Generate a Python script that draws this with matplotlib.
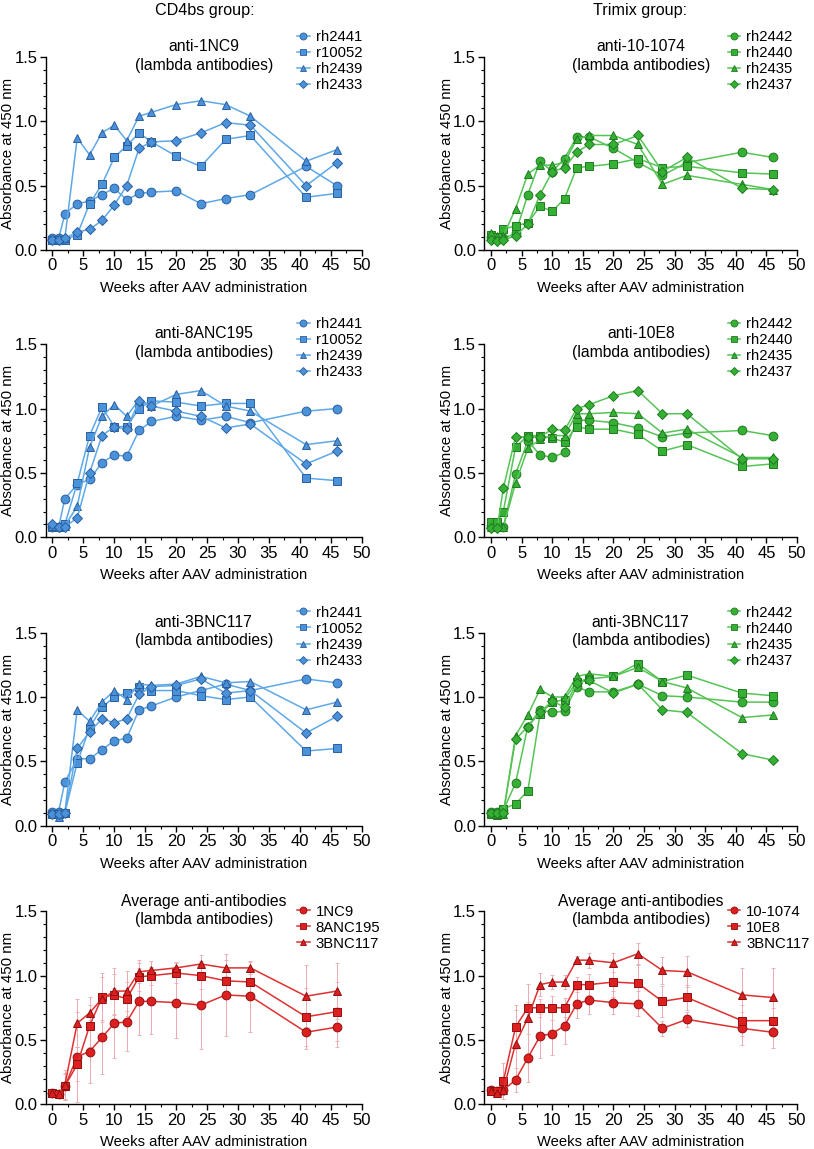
import numpy as np
import matplotlib
matplotlib.use('Agg')
import matplotlib.pyplot as plt
from matplotlib.ticker import MultipleLocator, FormatStrFormatter
from matplotlib.lines import Line2D

plt.rcParams['font.family'] = ['Liberation Sans', 'DejaVu Sans']

weeks = [0, 1, 2, 4, 6, 8, 10, 12, 14, 16, 20, 24, 28, 32, 41, 46]

cd4_animals = ['rh2441', 'r10052', 'rh2439', 'rh2433']
tri_animals = ['rh2442', 'rh2440', 'rh2435', 'rh2437']

# CD4bs group, anti-1NC9
cd4_1nc9 = [
    [0.09, 0.09, 0.28, 0.36, 0.38, 0.43, 0.48, 0.39, 0.44, 0.45, 0.46, 0.36, 0.40, 0.43, 0.65, 0.50],
    [0.08, 0.08, 0.08, 0.12, 0.36, 0.51, 0.72, 0.81, 0.91, 0.84, 0.73, 0.65, 0.86, 0.89, 0.41, 0.44],
    [0.08, 0.08, 0.09, 0.87, 0.74, 0.91, 0.97, 0.85, 1.04, 1.07, 1.13, 1.16, 1.13, 1.04, 0.69, 0.78],
    [0.08, 0.08, 0.09, 0.14, 0.16, 0.23, 0.35, 0.50, 0.79, 0.84, 0.85, 0.91, 0.99, 0.97, 0.50, 0.68],
]
# CD4bs group, anti-8ANC195
cd4_8anc195 = [
    [0.08, 0.08, 0.30, 0.41, 0.45, 0.58, 0.64, 0.63, 0.83, 0.90, 0.94, 0.91, 0.94, 0.89, 0.98, 1.00],
    [0.08, 0.08, 0.10, 0.42, 0.79, 1.01, 0.86, 0.86, 1.00, 1.06, 1.05, 1.02, 1.04, 1.04, 0.46, 0.44],
    [0.09, 0.08, 0.09, 0.24, 0.70, 0.94, 1.03, 0.94, 1.07, 1.02, 1.11, 1.14, 1.02, 0.98, 0.72, 0.75],
    [0.10, 0.08, 0.08, 0.15, 0.50, 0.79, 0.86, 0.84, 1.06, 1.02, 0.98, 0.94, 0.85, 0.88, 0.57, 0.67],
]
# CD4bs group, anti-3BNC117
cd4_3bnc117 = [
    [0.11, 0.11, 0.34, 0.52, 0.52, 0.59, 0.66, 0.68, 0.90, 0.93, 1.00, 1.05, 1.10, 1.05, 1.14, 1.11],
    [0.09, 0.09, 0.10, 0.49, 0.76, 0.92, 1.00, 1.03, 1.08, 1.05, 1.05, 1.01, 0.98, 1.00, 0.58, 0.60],
    [0.09, 0.07, 0.10, 0.90, 0.81, 0.96, 1.05, 0.98, 1.10, 1.09, 1.10, 1.16, 1.11, 1.12, 0.90, 0.96],
    [0.09, 0.09, 0.10, 0.60, 0.73, 0.83, 0.80, 0.83, 1.02, 1.08, 1.09, 1.14, 1.03, 1.05, 0.72, 0.85],
]
# Trimix group, anti-10-1074
tri_101074 = [
    [0.10, 0.09, 0.09, 0.13, 0.43, 0.69, 0.61, 0.71, 0.88, 0.88, 0.79, 0.68, 0.58, 0.68, 0.76, 0.72],
    [0.12, 0.10, 0.16, 0.19, 0.21, 0.34, 0.30, 0.40, 0.64, 0.65, 0.67, 0.71, 0.64, 0.65, 0.60, 0.59],
    [0.13, 0.11, 0.11, 0.32, 0.59, 0.66, 0.66, 0.68, 0.86, 0.89, 0.89, 0.82, 0.51, 0.58, 0.51, 0.47],
    [0.08, 0.07, 0.08, 0.11, 0.20, 0.43, 0.61, 0.64, 0.76, 0.82, 0.82, 0.89, 0.61, 0.72, 0.48, 0.47],
]
# Trimix group, anti-10E8
tri_10e8 = [
    [0.09, 0.09, 0.08, 0.49, 0.75, 0.64, 0.62, 0.66, 0.91, 0.91, 0.89, 0.85, 0.78, 0.81, 0.83, 0.79],
    [0.12, 0.12, 0.20, 0.70, 0.79, 0.79, 0.77, 0.74, 0.86, 0.84, 0.84, 0.80, 0.67, 0.72, 0.55, 0.57],
    [0.08, 0.08, 0.08, 0.42, 0.69, 0.76, 0.79, 0.79, 0.96, 0.96, 0.97, 0.96, 0.81, 0.84, 0.62, 0.62],
    [0.07, 0.07, 0.38, 0.78, 0.78, 0.78, 0.84, 0.83, 1.00, 1.03, 1.10, 1.14, 0.96, 0.96, 0.61, 0.61],
]
# Trimix group, anti-3BNC117
tri_3bnc117 = [
    [0.11, 0.11, 0.12, 0.33, 0.77, 0.90, 0.88, 0.89, 1.08, 1.04, 1.04, 1.10, 1.01, 1.00, 0.96, 0.96],
    [0.09, 0.08, 0.13, 0.17, 0.27, 0.87, 0.96, 0.98, 1.12, 1.14, 1.16, 1.26, 1.12, 1.17, 1.03, 1.01],
    [0.09, 0.09, 0.09, 0.70, 0.86, 1.06, 1.00, 1.00, 1.16, 1.18, 1.16, 1.23, 1.12, 1.07, 0.84, 0.86],
    [0.10, 0.10, 0.10, 0.67, 0.77, 0.88, 0.97, 0.92, 1.11, 1.13, 1.03, 1.10, 0.90, 0.88, 0.56, 0.51],
]

# averages as plotted
cd4_avg_labels = ['1NC9', '8ANC195', '3BNC117']
cd4_avg = [
    [0.09, 0.08, 0.14, 0.37, 0.41, 0.52, 0.63, 0.64, 0.80, 0.80, 0.79, 0.77, 0.85, 0.84, 0.56, 0.60],
    [0.09, 0.08, 0.14, 0.31, 0.61, 0.83, 0.85, 0.82, 0.99, 1.00, 1.02, 1.00, 0.96, 0.95, 0.68, 0.72],
    [0.09, 0.08, 0.15, 0.63, 0.71, 0.82, 0.88, 0.88, 1.03, 1.04, 1.06, 1.09, 1.06, 1.06, 0.84, 0.88],
]
tri_avg_labels = ['10-1074', '10E8', '3BNC117']
tri_avg = [
    [0.11, 0.10, 0.11, 0.19, 0.36, 0.53, 0.55, 0.61, 0.78, 0.81, 0.79, 0.78, 0.59, 0.66, 0.59, 0.56],
    [0.10, 0.10, 0.18, 0.60, 0.75, 0.75, 0.75, 0.75, 0.93, 0.93, 0.95, 0.94, 0.80, 0.83, 0.65, 0.65],
    [0.10, 0.09, 0.11, 0.47, 0.67, 0.93, 0.95, 0.95, 1.12, 1.12, 1.10, 1.17, 1.04, 1.03, 0.85, 0.83],
]

markers = ['o', 's', '^', 'D']
msizes = [6.3, 6.0, 6.0, 4.6]

blue = dict(line='#5EA8E8', face='#4A92DA', edge='#2B5E9E')
green = dict(line='#55C455', face='#35B035', edge='#1F7A1F')
red = dict(line='#E03030', face='#DD1F1F', edge='#8E0F0F')

fig = plt.figure(figsize=(8.14, 11.49), dpi=100)

left_x, right_x = 0.0561, 0.595
col_w = [0.3883, 0.3842]
leg_x = [0.795, 0.778]
row_bottoms = [0.7824, 0.5324, 0.2814, 0.0389]
row_h = 0.168


def style_axes(ax):
    ax.set_xlim(-1.1, 50)
    ax.set_ylim(0, 1.5)
    ax.spines['top'].set_visible(False)
    ax.spines['right'].set_visible(False)
    ax.spines['left'].set_linewidth(1.0)
    ax.spines['bottom'].set_linewidth(1.0)
    ax.xaxis.set_major_locator(MultipleLocator(5))
    ax.xaxis.set_minor_locator(MultipleLocator(2.5))
    ax.yaxis.set_major_locator(MultipleLocator(0.5))
    ax.yaxis.set_minor_locator(MultipleLocator(0.1))
    ax.yaxis.set_major_formatter(FormatStrFormatter('%.1f'))
    ax.tick_params(which='major', length=4.5, width=1.0, labelsize=12, pad=1.5)
    ax.tick_params(which='minor', length=2.5, width=0.8)
    ax.set_xlabel('Weeks after AAV administration', fontsize=10.6)
    ax.set_ylabel('Absorbance at 450 nm', fontsize=10.8)
    ax.xaxis.set_label_coords(0.5, -0.196)
    ax.xaxis.label.set_va('center')
    ax.yaxis.set_label_coords(-0.118, 0.5)
    ax.yaxis.label.set_va('center')


def draw_panel(ax, series, labels, col, title, lx, errs=None, leg_y=1.14):
    for i, vals in enumerate(series):
        if errs is not None:
            ax.errorbar(weeks, vals, yerr=errs[i], fmt='none', ecolor='#EBA9AE',
                        elinewidth=0.7, capsize=1.5, capthick=0.6, zorder=1, clip_on=False)
        ax.plot(weeks, vals, color=col['line'], lw=1.1, marker=markers[i],
                ms=msizes[i], mfc=col['face'], mec=col['edge'], mew=0.7,
                zorder=3, clip_on=False)
    handles = [Line2D([0], [0], color=col['line'], lw=1.1, marker=markers[i],
                      ms=msizes[i] * 0.8, mfc=col['face'], mec=col['edge'], mew=0.6)
               for i in range(len(labels))]
    ax.legend(handles, labels, loc='upper left', bbox_to_anchor=(lx, leg_y),
              frameon=False, fontsize=10.7, handlelength=0.85, handletextpad=0.4,
              labelspacing=0.14, borderaxespad=0, borderpad=0)
    ax.text(0.5, 1.005, title + '\n(lambda antibodies)', transform=ax.transAxes,
            ha='center', va='center', fontsize=11.3, linespacing=1.3)
    style_axes(ax)


cd4_panels = [(cd4_1nc9, 'anti-1NC9'), (cd4_8anc195, 'anti-8ANC195'), (cd4_3bnc117, 'anti-3BNC117')]
tri_panels = [(tri_101074, 'anti-10-1074'), (tri_10e8, 'anti-10E8'), (tri_3bnc117, 'anti-3BNC117')]

for r in range(3):
    ax = fig.add_axes([left_x, row_bottoms[r], col_w[0], row_h])
    draw_panel(ax, cd4_panels[r][0], cd4_animals, blue, cd4_panels[r][1], leg_x[0])
    ax = fig.add_axes([right_x, row_bottoms[r], col_w[1], row_h])
    draw_panel(ax, tri_panels[r][0], tri_animals, green, tri_panels[r][1], leg_x[1])

# error bars: SD across the four animals of each panel
cd4_sd = [np.std(np.array(p[0]), axis=0, ddof=1) for p in cd4_panels]
tri_sd = [np.std(np.array(p[0]), axis=0, ddof=1) for p in tri_panels]

ax = fig.add_axes([left_x, row_bottoms[3], col_w[0], row_h])
draw_panel(ax, cd4_avg, cd4_avg_labels, red, 'Average anti-antibodies', leg_x[0],
           errs=cd4_sd, leg_y=1.035)
ax = fig.add_axes([right_x, row_bottoms[3], col_w[1], row_h])
draw_panel(ax, tri_avg, tri_avg_labels, red, 'Average anti-antibodies', leg_x[1],
           errs=tri_sd, leg_y=1.035)

fig.text(205 / 814, 1 - 11 / 1149, 'CD4bs group:', ha='center', va='center', fontsize=11.6)
fig.text(640 / 814, 1 - 11 / 1149, 'Trimix group:', ha='center', va='center', fontsize=11.6)

fig.savefig('out.png', dpi=100)
